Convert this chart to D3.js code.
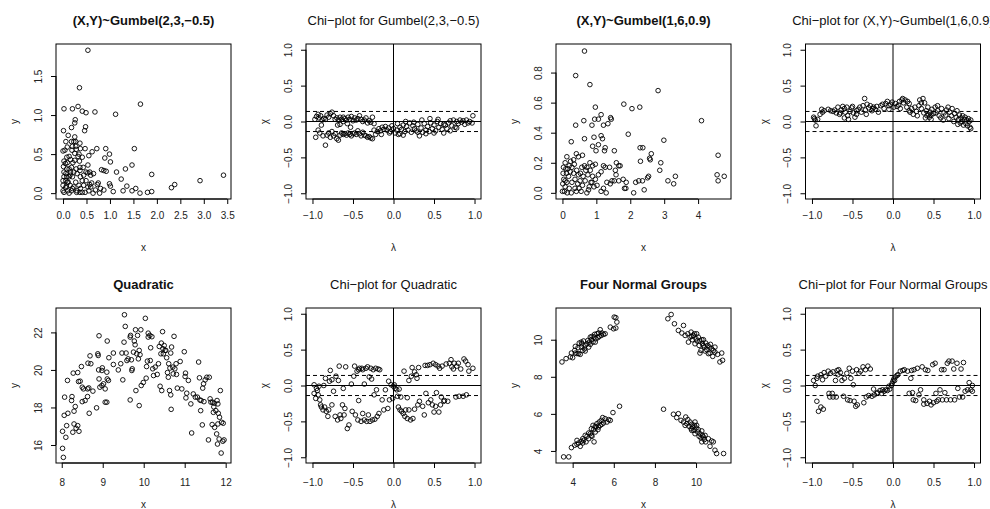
<!DOCTYPE html>
<html>
<head>
<meta charset="utf-8">
<script src="https://cdn.jsdelivr.net/npm/d3@7"></script>
<style>
  body { margin: 0; background: #fff; }
  svg { display: block; font-family: "Liberation Sans", Arial, Helvetica, sans-serif; }
</style>
</head>
<body>
<div id="chart"></div>
<script>
// ---- data: [x, y] pairs ----
const gumbelA = [
  [0.53,1.83],[0.35,1.35],[0.02,1.08],[0.2,1.08],[0.32,1.11],[0.41,1.05],[0.49,1.03],[0.68,1.04],[1.12,1.01],[1.65,1.14],
  [0.01,0.8],[0.18,0.84],[0.25,0.9],[0.26,0.94],[0.48,0.85],[0.46,0.8],[0.11,0.74],[0.25,0.72],[0.36,0.64],[0.18,0.66],
  [0.23,0.66],[1.52,0.57],[0.91,0.57],[0.72,0.57],[0.47,0.57],[0.62,0.53],[0.99,0.5],[0.55,0.48],[1.01,0.4],[0.89,0.45],
  [1.14,0.27],[1.33,0.31],[1.47,0.36],[1.89,0.24],[0.87,0.29],[0.82,0.3],[0.92,0.28],[1.24,0.18],[1.36,0.09],[1.55,0.06],
  [1.47,0.03],[1.64,0.0],[1.28,0.03],[1.07,0.02],[1.01,0.09],[0.99,0.12],[1.8,0.01],[1.89,0.02],[2.31,0.07],[2.38,0.11],
  [2.92,0.16],[3.42,0.23],[0.73,0.11],[0.75,0.13],[0.61,0.13],[0.8,0.06],[0.87,0.04],[0.78,0.0],[0.69,0.04],[0.64,0.0],
  [0.55,0.03],[0.47,0.01],[0.57,0.11],[0.65,0.25],[0.59,0.23],[0.53,0.26],[0.53,0.36],[0.49,0.27],[0.43,0.33],[0.36,0.33],
  [0.35,0.41],[0.32,0.47],[0.34,0.5],[0.28,0.56],[0.2,0.6],[0.27,0.6],[0.19,0.55],[0.13,0.47],[0.08,0.46],[0.04,0.55],
  [0.0,0.54],[0.05,0.38],[0.01,0.34],[0.08,0.31],[0.06,0.25],[0.02,0.21],[0.0,0.16],[0.0,0.1],[0.0,0.03],[0.02,0.01],
  [0.06,0.07],[0.09,0.14],[0.13,0.21],[0.16,0.27],[0.18,0.33],[0.21,0.39],[0.25,0.42],[0.28,0.31],[0.3,0.25],[0.27,0.14],
  [0.23,0.08],[0.18,0.03],[0.13,0.0],[0.3,0.03],[0.37,0.06],[0.41,0.01],[0.34,0.1],[0.41,0.16],[0.37,0.21],[0.44,0.23],
  [0.49,0.16],[0.53,0.08],[0.59,0.08],[0.2,0.21],[0.08,0.21],[0.11,0.14],[0.07,0.09],[0.15,0.1],[0.2,0.06],[0.09,0.39],
  [0.16,0.43],[0.25,0.51],[0.37,0.57],[0.36,0.29],[0.06,0.66],[0.09,0.59],[0.27,0.66],[0.41,0.46],[0.57,0.27],[0.44,0.1],
  [0.29,0.01],[0.36,0.01],[0.15,0.23],[0.23,0.27],[0.1,0.03],[0.06,0.16],[0.13,0.31],[0.02,0.27],[0.02,0.41]
];

const chiGumbelA = [
  [-0.97,0.03],[-0.95,0.07],[-0.93,0.1],[-0.92,0.05],[-0.9,0.08],[-0.88,0.02],[-0.86,0.04],[-0.84,0.03],[-0.82,0.09],[-0.8,0.06],
  [-0.78,0.11],[-0.76,0.13],[-0.74,0.08],[-0.72,0.03],[-0.7,0.05],[-0.68,0.02],[-0.66,0.06],[-0.64,0.03],[-0.62,0.0],[-0.6,0.04],
  [-0.58,0.02],[-0.56,0.06],[-0.54,0.03],[-0.52,0.07],[-0.5,0.01],[-0.48,0.05],[-0.46,0.02],[-0.44,0.04],[-0.42,0.08],[-0.4,0.03],
  [-0.38,0.0],[-0.36,0.02],[-0.34,0.05],[-0.32,-0.02],[-0.3,0.01],[-0.28,-0.01],[-0.26,0.06],[-0.24,-0.03],[-0.62,0.06],[-0.57,-0.03],
  [-0.53,-0.08],[-0.66,-0.04],[-0.69,-0.05],
  [-0.96,-0.22],[-0.93,-0.12],[-0.91,-0.16],[-0.89,-0.05],[-0.87,-0.2],[-0.84,-0.33],[-0.82,-0.19],[-0.8,-0.16],[-0.78,-0.22],[-0.76,-0.14],
  [-0.74,-0.2],[-0.72,-0.17],[-0.7,-0.24],[-0.68,-0.26],[-0.66,-0.19],[-0.64,-0.16],[-0.62,-0.18],[-0.6,-0.17],[-0.58,-0.19],[-0.56,-0.16],
  [-0.54,-0.18],[-0.52,-0.2],[-0.5,-0.17],[-0.48,-0.16],[-0.46,-0.18],[-0.44,-0.13],[-0.42,-0.17],[-0.4,-0.2],[-0.38,-0.15],[-0.36,-0.19],
  [-0.34,-0.2],[-0.32,-0.22],[-0.3,-0.21],[-0.28,-0.23],[-0.26,-0.24],[-0.24,-0.12],[-0.22,-0.18],[-0.2,-0.14],[-0.18,-0.1],[-0.16,-0.13],
  [-0.14,-0.08],[-0.12,-0.11],[-0.1,-0.07],[-0.08,-0.12],[-0.06,-0.09],[-0.04,-0.14],[-0.02,-0.06],[0.0,-0.1],[0.02,-0.16],[0.04,-0.12],
  [0.06,-0.18],[0.08,-0.08],[0.1,-0.11],[0.12,-0.05],[0.14,-0.14],[0.16,-0.07],[0.18,-0.12],[0.2,-0.02],[0.22,-0.15],[0.24,-0.06],
  [0.26,-0.1],[0.28,-0.13],[0.3,-0.04],[0.32,-0.2],[0.34,-0.09],[0.36,-0.15],[0.38,-0.03],[0.4,-0.12],[0.42,-0.07],[0.44,-0.14],
  [0.46,-0.02],[0.48,-0.1],[0.5,-0.05],[0.52,-0.13],[0.54,0.0],[0.56,-0.08],[0.58,-0.03],[0.6,-0.11],[0.62,-0.16],[0.64,-0.05],
  [0.66,-0.1],[0.68,-0.02],[0.7,0.01],[0.72,-0.06],[0.74,0.02],[0.76,-0.08],[0.78,0.0],[0.8,-0.03],[0.82,0.02],[0.84,-0.01],
  [0.86,0.01],[0.88,-0.04],[0.9,0.02],[0.92,-0.02],[0.94,0.0],[0.98,0.08],[0.97,-0.02],
  [0.25,-0.01],[0.35,0.02],[0.45,0.04],[0.55,0.03],[0.15,0.0],[0.05,-0.03],[-0.05,-0.16],[-0.15,-0.18],[0.3,-0.15],[0.4,-0.17],
  [0.5,-0.16],[0.62,-0.04],[0.7,-0.13],[0.78,-0.09],[0.12,-0.19],[0.08,-0.17]
];

const gumbelB = [
  [0.65,0.943],[0.39,0.78],[0.81,0.72],[2.82,0.68],[1.81,0.59],[2.05,0.56],[2.28,0.57],[0.97,0.57],[4.1,0.48],[1.14,0.52],
  [1.06,0.49],[0.95,0.49],[1.21,0.45],[1.34,0.46],[1.42,0.5],[1.44,0.49],[0.39,0.45],[0.87,0.45],[0.63,0.48],[1.94,0.39],
  [1.14,0.38],[1.18,0.36],[0.65,0.36],[0.93,0.37],[2.99,0.35],[0.89,0.31],[1.06,0.32],[1.26,0.3],[1.24,0.28],[0.99,0.28],
  [0.26,0.34],[1.53,0.28],[2.29,0.3],[2.37,0.3],[2.62,0.26],[2.57,0.23],[2.59,0.22],[2.3,0.21],[2.9,0.2],[2.87,0.15],
  [4.59,0.25],[4.56,0.12],[4.59,0.08],[4.77,0.11],[3.33,0.11],[3.11,0.08],[3.28,0.06],[2.51,0.1],[2.54,0.11],[2.36,0.08],
  [2.16,0.07],[2.25,0.08],[2.41,0.02],[2.1,0.0],[1.83,0.03],[1.87,0.03],[1.88,0.07],[1.79,0.09],[1.59,0.2],[1.66,0.18],
  [1.7,0.18],[1.56,0.15],[1.58,0.12],[1.53,0.08],[1.66,0.08],[1.41,0.06],[1.46,0.08],[1.31,0.07],[1.29,0.0],[1.21,0.03],
  [1.14,0.01],[1.26,0.17],[1.21,0.18],[1.39,0.17],[1.14,0.14],[1.06,0.12],[0.97,0.09],[1.02,0.05],[0.93,0.04],[0.84,0.07],
  [0.77,0.02],[0.72,0.0],[0.89,0.18],[0.97,0.19],[0.81,0.2],[0.72,0.17],[0.65,0.18],[0.57,0.17],[0.59,0.25],[0.41,0.26],
  [0.47,0.24],[0.33,0.22],[0.24,0.21],[0.13,0.24],[0.08,0.2],[0.03,0.17],[0.02,0.13],[0.04,0.09],[0.01,0.06],[0.0,0.01],
  [0.08,0.04],[0.13,0.07],[0.18,0.11],[0.23,0.14],[0.28,0.17],[0.35,0.19],[0.42,0.15],[0.47,0.12],[0.37,0.09],[0.28,0.07],
  [0.2,0.03],[0.26,0.0],[0.37,0.03],[0.45,0.06],[0.52,0.08],[0.59,0.05],[0.67,0.08],[0.75,0.12],[0.69,0.15],[0.53,0.13],
  [0.61,0.11],[0.08,0.08],[0.12,0.13],[0.16,0.16],[0.06,0.01],[0.14,0.0],[0.33,0.13],[0.41,0.01],[0.49,0.03],[0.55,0.01],
  [0.82,0.15],[0.89,0.11],[0.79,0.04],[0.87,0.07],[0.2,0.18],[0.1,0.16]
];

const chiGumbelB = [
  [-0.98,0.06],[-0.97,0.04],[-0.96,0.02],[-0.95,-0.06],[-0.93,0.03],[-0.9,0.1],[-0.88,0.17],[-0.87,0.13],[-0.85,0.15],[-0.8,0.17],
  [-0.77,0.15],[-0.74,0.14],[-0.72,0.16],[-0.7,0.12],[-0.68,0.2],[-0.66,0.1],[-0.64,0.16],[-0.62,0.21],[-0.6,0.18],[-0.59,0.13],
  [-0.57,0.2],[-0.56,0.08],[-0.55,0.03],[-0.53,0.14],[-0.51,0.19],[-0.49,0.12],[-0.47,0.06],[-0.45,0.15],[-0.43,0.17],[-0.41,0.2],
  [-0.39,0.13],[-0.37,0.22],[-0.35,0.32],[-0.34,0.16],[-0.32,0.24],[-0.3,0.19],[-0.28,0.22],[-0.26,0.15],[-0.24,0.2],[-0.22,0.17],
  [-0.2,0.21],[-0.18,0.13],[-0.15,0.22],[-0.13,0.24],[-0.11,0.18],[-0.09,0.25],[-0.07,0.28],[-0.05,0.22],[-0.03,0.24],[-0.01,0.27],
  [0.01,0.2],[0.03,0.25],[0.05,0.21],[0.07,0.23],[0.09,0.18],[0.11,0.3],[0.12,0.32],[0.13,0.26],[0.15,0.3],[0.17,0.2],
  [0.18,0.28],[0.2,0.25],[0.21,0.13],[0.23,0.18],[0.25,0.1],[0.27,0.2],[0.29,0.14],[0.3,0.08],[0.32,0.22],[0.33,0.3],
  [0.35,0.18],[0.37,0.32],[0.38,0.12],[0.39,0.26],[0.4,0.05],[0.41,0.15],[0.42,0.08],[0.43,0.2],[0.44,0.1],[0.45,0.06],
  [0.46,0.13],[0.47,0.09],[0.48,0.17],[0.5,0.11],[0.52,0.2],[0.53,0.12],[0.55,0.15],[0.57,0.08],[0.59,0.05],[0.6,0.18],
  [0.62,0.02],[0.63,0.12],[0.65,0.09],[0.66,0.16],[0.68,0.2],[0.69,0.04],[0.7,0.13],[0.72,0.08],[0.73,0.18],[0.75,0.0],
  [0.76,0.11],[0.78,0.06],[0.79,0.15],[0.8,-0.04],[0.81,0.03],[0.82,0.09],[0.83,-0.02],[0.84,0.05],[0.85,0.0],[0.86,0.08],
  [0.87,-0.05],[0.88,0.03],[0.89,0.06],[0.9,-0.03],[0.91,0.02],[0.92,-0.06],[0.93,0.04],[0.94,0.0],[0.95,-0.08],[0.96,-0.1],
  [0.96,0.02],[-0.6,0.05],[-0.45,0.1],[-0.25,0.18],[-0.05,0.17],[0.2,0.15],[0.35,0.26],[0.47,0.03],[0.55,0.22],[0.08,0.28],
  [-0.65,0.12],[-0.5,0.21],[-0.33,0.1]
];

const quadratic = [
  [8.02,15.82],[8.04,15.34],[8.02,16.73],[8.07,18.55],[8.06,17.58],[8.1,16.41],[8.12,17.03],[8.15,17.69],[8.14,19.44],[8.24,18.37],
  [8.25,18.58],[8.28,19.83],[8.3,17.12],[8.3,17.8],[8.33,18.05],[8.27,16.68],[8.35,16.89],[8.39,17.03],[8.42,16.73],[8.41,19.38],
  [8.39,19.86],[8.45,19.4],[8.48,20.18],[8.5,19.08],[8.53,18.99],[8.5,18.31],[8.57,18.37],[8.63,18.58],[8.63,18.99],[8.66,19.04],
  [8.64,20.36],[8.69,20.75],[8.67,17.69],[8.71,20.33],[8.76,18.87],[8.85,17.98],[8.88,20.86],[8.91,21.82],[8.89,20.77],[8.9,20.0],
  [8.91,19.52],[8.93,19.08],[8.98,19.97],[8.99,20.11],[8.98,19.17],[9.02,19.26],[9.06,18.99],[9.06,18.28],[9.1,18.28],[9.1,19.88],
  [9.11,19.52],[9.11,21.54],[9.15,20.65],[9.14,19.44],[9.26,20.9],[9.26,20.29],[9.38,20.0],[9.44,20.33],[9.47,20.9],[9.49,19.47],
  [9.52,21.48],[9.53,22.94],[9.55,22.32],[9.59,20.5],[9.57,20.9],[9.62,20.59],[9.67,21.75],[9.68,21.84],[9.67,18.4],[9.7,20.54],
  [9.71,19.97],[9.72,20.06],[9.75,20.95],[9.77,21.54],[9.79,21.34],[9.8,22.14],[9.81,18.9],[9.83,20.86],[9.85,21.84],[9.87,20.59],
  [9.89,21.04],[9.91,20.81],[9.93,22.14],[9.89,18.1],[9.94,19.17],[9.99,19.33],[10.04,22.75],[10.06,19.56],[10.07,20.18],[10.09,20.47],
  [10.11,21.96],[10.11,21.75],[10.15,21.84],[10.16,20.5],[10.17,21.18],[10.2,21.77],[10.22,20.06],[10.24,19.7],[10.28,20.15],[10.33,19.76],
  [10.36,20.33],[10.38,21.25],[10.4,19.13],[10.42,20.86],[10.43,21.43],[10.44,18.9],[10.46,22.04],[10.47,21.13],[10.48,20.86],[10.5,21.3],
  [10.52,21.04],[10.54,21.04],[10.56,20.65],[10.58,19.86],[10.6,19.61],[10.61,20.33],[10.63,18.9],[10.64,20.1],[10.66,20.9],[10.66,18.67],
  [10.67,17.9],[10.68,21.22],[10.71,20.15],[10.72,19.79],[10.74,21.79],[10.76,20.06],[10.79,20.33],[10.8,19.76],[10.82,19.03],[10.89,20.45],
  [10.93,18.99],[10.99,20.97],[11.01,19.65],[11.02,19.83],[11.03,18.51],[11.05,18.76],[11.09,19.44],[11.15,18.19],[11.17,16.64],[11.21,18.72],
  [11.26,18.55],[11.31,18.55],[11.34,20.42],[11.36,19.58],[11.37,18.4],[11.39,17.83],[11.4,18.37],[11.43,17.07],[11.44,19.03],[11.46,19.26],
  [11.47,18.31],[11.5,19.47],[11.54,19.61],[11.58,16.27],[11.6,19.61],[11.62,18.46],[11.64,18.28],[11.67,17.09],[11.68,18.28],[11.7,17.74],
  [11.72,18.23],[11.73,16.94],[11.76,17.83],[11.78,16.59],[11.79,18.37],[11.8,16.05],[11.81,18.19],[11.82,17.69],[11.84,16.32],[11.85,17.48],
  [11.87,18.9],[11.89,15.57],[11.9,17.21],[11.93,16.2],[11.94,17.16],[11.96,16.27],[11.81,17.12],[11.71,18.03]
];

const chiQuadratic = [
  [-0.98,-0.11],[-0.98,0.01],[-0.96,-0.18],[-0.95,-0.04],[-0.94,-0.07],[-0.93,-0.13],[-0.92,-0.01],[-0.91,-0.2],[-0.9,-0.27],[-0.89,-0.3],
  [-0.87,-0.34],[-0.86,0.0],[-0.85,-0.3],[-0.84,0.1],[-0.83,-0.36],[-0.81,-0.43],[-0.8,-0.34],[-0.79,0.06],[-0.78,0.21],[-0.76,-0.27],
  [-0.76,0.08],[-0.74,-0.08],[-0.72,-0.43],[-0.71,0.13],[-0.69,-0.48],[-0.68,0.07],[-0.67,0.27],[-0.66,-0.41],[-0.65,-0.46],[-0.63,-0.27],
  [-0.62,-0.04],[-0.61,-0.41],[-0.6,-0.32],[-0.59,0.26],[-0.57,-0.6],[-0.55,-0.55],[-0.52,0.02],[-0.51,-0.36],[-0.49,0.13],[-0.48,0.27],
  [-0.47,-0.41],[-0.45,0.2],[-0.44,-0.48],[-0.43,0.22],[-0.43,-0.21],[-0.42,0.24],[-0.4,-0.5],[-0.39,0.24],[-0.38,-0.39],[-0.38,0.22],
  [-0.36,-0.48],[-0.36,0.02],[-0.34,0.24],[-0.33,-0.5],[-0.32,0.26],[-0.31,-0.41],[-0.3,0.12],[-0.29,-0.5],[-0.28,0.24],[-0.27,0.09],
  [-0.26,-0.48],[-0.25,0.22],[-0.24,-0.13],[-0.23,-0.47],[-0.22,0.24],[-0.21,-0.06],[-0.2,-0.43],[-0.19,0.23],[-0.18,-0.39],[-0.17,0.22],
  [-0.14,-0.2],[-0.12,-0.34],[-0.1,-0.06],[-0.07,-0.32],[-0.06,0.06],[-0.05,-0.2],[-0.03,0.01],[-0.01,-0.18],[0.0,-0.01],[0.01,0.01],
  [0.02,-0.04],[0.04,-0.06],[0.05,-0.15],[0.06,-0.3],[0.07,-0.05],[0.08,-0.34],[0.09,-0.16],[0.1,-0.36],[0.12,-0.39],[0.13,0.2],
  [0.14,-0.43],[0.15,-0.34],[0.17,-0.17],[0.17,-0.46],[0.19,-0.34],[0.19,0.07],[0.21,-0.48],[0.22,0.13],[0.23,0.25],[0.24,-0.46],
  [0.26,0.19],[0.26,-0.33],[0.28,0.15],[0.29,0.1],[0.3,-0.27],[0.31,0.25],[0.32,-0.22],[0.36,-0.29],[0.38,-0.41],[0.39,0.28],
  [0.4,-0.11],[0.42,0.28],[0.43,-0.24],[0.45,0.29],[0.46,-0.2],[0.48,-0.27],[0.49,0.31],[0.5,-0.37],[0.52,0.29],[0.52,-0.29],
  [0.53,-0.1],[0.55,0.27],[0.56,-0.37],[0.57,0.24],[0.58,-0.27],[0.59,-0.16],[0.6,0.27],[0.62,-0.22],[0.63,-0.21],[0.65,0.3],
  [0.67,-0.22],[0.69,0.31],[0.71,0.36],[0.72,0.26],[0.74,0.23],[0.75,0.31],[0.77,-0.16],[0.78,0.27],[0.8,0.31],[0.81,-0.15],
  [0.83,0.23],[0.86,-0.15],[0.87,0.37],[0.89,0.34],[0.9,-0.13],[0.92,0.29],[0.93,0.2],[0.98,0.24]
];

const fourGroups = [
  [3.48,8.8],[3.68,8.98],[3.89,9.07],[3.94,9.28],[4.0,9.03],[4.1,9.42],[4.13,9.64],[4.21,9.25],[4.26,9.57],[4.32,9.82],
  [4.37,9.21],[4.42,9.6],[4.45,9.78],[4.49,9.42],[4.53,9.93],[4.58,9.51],[4.61,9.69],[4.7,9.78],[4.74,9.96],[4.81,9.87],
  [4.86,9.75],[4.91,10.0],[4.94,10.18],[4.99,9.87],[5.04,10.14],[5.07,10.29],[5.13,10.05],[5.18,10.32],[5.23,10.11],[5.26,10.36],
  [5.34,10.54],[5.39,10.23],[5.42,10.36],[5.5,10.29],[5.58,10.32],[5.83,10.68],[5.99,10.59],[6.02,11.22],[6.1,11.19],[6.15,10.95],
  [6.1,10.63],[4.29,9.25],[4.61,9.39],[4.86,10.14],[5.1,9.87],[5.29,10.18],[4.13,9.28],[4.42,9.87],[4.78,9.6],
  [3.56,3.68],[3.81,3.68],[3.94,4.18],[4.1,4.31],[4.21,4.36],[4.29,4.43],[4.37,4.25],[4.42,4.52],[4.49,4.43],[4.53,4.57],
  [4.61,4.84],[4.65,4.49],[4.7,4.79],[4.78,4.66],[4.86,4.93],[4.91,5.2],[4.94,4.79],[4.99,5.38],[5.02,5.15],[5.04,4.49],
  [5.1,5.02],[5.13,5.29],[5.18,5.47],[5.23,5.15],[5.29,5.56],[5.34,5.38],[5.39,5.65],[5.46,5.8],[5.5,5.51],[5.58,5.74],
  [5.67,5.56],[5.75,5.69],[5.83,5.65],[5.96,6.07],[6.28,6.41],[4.78,4.97],[4.49,4.66],[5.1,5.33],[5.42,5.44],[5.26,5.29],
  [4.21,4.57],[4.91,4.84],
  [8.63,11.13],[8.79,11.36],[8.95,10.86],[9.14,10.5],[9.39,10.77],[9.31,10.36],[9.47,10.23],[9.6,10.32],[9.63,9.87],[9.71,10.14],
  [9.76,10.41],[9.82,10.0],[9.87,10.23],[9.92,10.32],[9.95,9.78],[10.0,10.05],[10.05,9.93],[10.11,10.14],[10.15,9.69],[10.19,9.93],
  [10.24,9.42],[10.28,10.0],[10.31,9.78],[10.36,10.0],[10.4,9.6],[10.44,9.39],[10.47,9.82],[10.52,9.46],[10.57,9.69],[10.6,9.25],
  [10.65,9.6],[10.7,9.75],[10.76,9.51],[10.81,9.1],[10.84,9.42],[10.92,9.33],[11.05,9.21],[11.16,8.8],[11.25,9.28],[11.29,8.89],
  [9.79,10.18],[10.03,10.32],[10.36,9.69],[10.68,9.28],[10.19,9.28],[10.92,9.6],
  [8.42,6.25],[8.9,5.98],[9.14,6.01],[9.06,5.8],[9.27,5.65],[9.39,5.56],[9.5,5.83],[9.55,5.47],[9.6,5.69],[9.66,5.33],
  [9.71,5.56],[9.76,5.2],[9.79,5.44],[9.84,5.29],[9.89,5.11],[9.92,5.38],[9.95,4.93],[10.0,5.24],[10.03,5.38],[10.08,5.02],
  [10.15,4.79],[10.19,4.93],[10.24,4.7],[10.28,4.49],[10.31,4.84],[10.36,4.75],[10.4,4.61],[10.44,4.84],[10.47,4.49],[10.68,4.25],
  [10.76,4.54],[10.84,4.49],[10.92,4.04],[11.0,3.86],[11.34,3.86],[9.47,5.38],[9.79,5.11],[10.11,5.15],[10.6,4.66],[10.28,5.08],
  [9.95,5.56]
];

const chiFourGroups = [
  [-0.98,0.07],[-0.96,0.0],[-0.94,0.1],[-0.93,0.13],[-0.94,-0.22],[-0.92,-0.36],[-0.89,-0.3],[-0.86,-0.33],[-0.89,0.15],[-0.87,0.08],
  [-0.85,0.18],[-0.83,0.13],[-0.8,0.2],[-0.79,-0.11],[-0.78,-0.16],[-0.77,0.17],[-0.75,-0.11],[-0.74,-0.16],[-0.74,0.19],[-0.71,0.07],
  [-0.7,-0.16],[-0.69,0.21],[-0.68,0.15],[-0.67,0.22],[-0.65,0.18],[-0.63,0.07],[-0.61,-0.15],[-0.6,0.1],[-0.57,0.17],[-0.56,-0.2],
  [-0.54,0.24],[-0.53,-0.21],[-0.52,0.1],[-0.5,0.2],[-0.49,0.01],[-0.48,-0.22],[-0.46,-0.29],[-0.45,0.22],[-0.44,-0.27],[-0.42,0.17],
  [-0.4,0.2],[-0.37,0.26],[-0.36,-0.24],[-0.34,0.22],[-0.33,-0.16],[-0.31,0.27],[-0.3,-0.14],[-0.28,0.23],[-0.26,-0.15],[-0.24,-0.05],
  [-0.23,-0.13],[-0.2,-0.11],[-0.19,-0.1],[-0.16,-0.07],[-0.14,-0.11],[-0.13,-0.06],[-0.11,-0.08],[-0.09,-0.06],[-0.07,-0.07],[-0.05,-0.01],
  [-0.04,-0.05],[-0.02,0.0],[-0.01,0.03],[0.0,0.06],[0.01,0.09],[0.02,0.07],[0.03,0.12],[0.05,0.14],[0.06,0.15],[0.09,0.2],
  [0.12,0.21],[0.14,0.22],[0.18,0.2],[0.2,-0.11],[0.22,0.1],[0.23,0.21],[0.24,-0.1],[0.25,-0.2],[0.26,0.22],[0.28,-0.21],
  [0.3,0.24],[0.32,-0.13],[0.34,-0.06],[0.36,0.26],[0.38,-0.2],[0.38,-0.26],[0.4,0.22],[0.42,-0.25],[0.43,0.21],[0.45,-0.22],
  [0.47,-0.27],[0.49,0.29],[0.5,-0.24],[0.52,0.31],[0.53,-0.11],[0.54,-0.22],[0.56,-0.2],[0.58,-0.06],[0.6,0.22],[0.61,-0.2],
  [0.63,0.22],[0.64,-0.1],[0.66,-0.2],[0.67,0.31],[0.69,0.34],[0.71,-0.2],[0.73,0.34],[0.75,0.23],[0.76,-0.2],[0.79,0.31],
  [0.8,-0.04],[0.82,-0.16],[0.84,0.23],[0.86,-0.16],[0.87,0.32],[0.89,-0.08],[0.92,-0.06],[0.94,0.04],[0.96,-0.06],[0.98,0.0],
  [0.98,-0.08]
];

// axis ranges and ticks
const rangeGumbelA = { x: [-0.15, 3.58], y: [-0.075, 1.91] };
const rangeGumbelB = { x: [-0.19, 4.97], y: [-0.041, 0.99] };
const rangeQuadratic = { x: [7.86, 12.13], y: [15.04, 23.3] };
const rangeFourGroups = { x: [3.19, 11.7], y: [3.35, 11.71] };
const rangeChi = { x: [-1.08, 1.08], y: [-1.08, 1.08] };

const ticksGumbelAX = [0, 0.5, 1, 1.5, 2, 2.5, 3, 3.5];
const ticksGumbelAY = [0, 0.5, 1, 1.5];
const ticksGumbelBX = [0, 1, 2, 3, 4];
const ticksGumbelBY = [0, 0.2, 0.4, 0.6, 0.8];
const ticksQuadraticX = [8, 9, 10, 11, 12];
const ticksQuadraticY = [16, 18, 20, 22];
const ticksFourX = [4, 6, 8, 10];
const ticksFourY = [4, 6, 8, 10];
const ticksChi = [-1, -0.5, 0, 0.5, 1];

const chiBand = 0.14;

const titles = [
  '(X,Y)~Gumbel(2,3,\u22120.5)', 'Chi\u2212plot for Gumbel(2,3,\u22120.5)',
  '(X,Y)~Gumbel(1,6,0.9)', 'Chi\u2212plot for (X,Y)~Gumbel(1,6,0.9)',
  'Quadratic', 'Chi\u2212plot for Quadratic',
  'Four Normal Groups', 'Chi\u2212plot for Four Normal Groups'
];

// ---- layout ----
const W = 990, H = 509;
const colLeft = [56, 306, 556, 805.5];
const rowTop = [44, 308];
const boxW = 175, boxH = 155;
// per row: tick label baseline and axis title baseline below the box
const tickLabelY = [19.5, 22.5];
const axisTitleY = [51.5, 44.5];

const fmt1 = (d) => d3.format('.1f')(d).replace('-', '\u2212');
const fmt0 = (d) => d3.format('d')(d);

const panels = [
  { data: gumbelA, range: rangeGumbelA, tx: ticksGumbelAX, ty: ticksGumbelAY, fx: fmt1, fy: fmt1, xl: 'x', yl: 'y', bold: true },
  { data: chiGumbelA, range: rangeChi, tx: ticksChi, ty: ticksChi, fx: fmt1, fy: fmt1, xl: '\u03bb', yl: '\u03c7', chi: true },
  { data: gumbelB, range: rangeGumbelB, tx: ticksGumbelBX, ty: ticksGumbelBY, fx: fmt0, fy: fmt1, xl: 'x', yl: 'y', bold: true },
  { data: chiGumbelB, range: rangeChi, tx: ticksChi, ty: ticksChi, fx: fmt1, fy: fmt1, xl: '\u03bb', yl: '\u03c7', chi: true },
  { data: quadratic, range: rangeQuadratic, tx: ticksQuadraticX, ty: ticksQuadraticY, fx: fmt0, fy: fmt0, xl: 'x', yl: 'y', bold: true },
  { data: chiQuadratic, range: rangeChi, tx: ticksChi, ty: ticksChi, fx: fmt1, fy: fmt1, xl: '\u03bb', yl: '\u03c7', chi: true },
  { data: fourGroups, range: rangeFourGroups, tx: ticksFourX, ty: ticksFourY, fx: fmt0, fy: fmt0, xl: 'x', yl: 'y', bold: true },
  { data: chiFourGroups, range: rangeChi, tx: ticksChi, ty: ticksChi, fx: fmt1, fy: fmt1, xl: '\u03bb', yl: '\u03c7', chi: true }
];

const svg = d3.select('#chart').append('svg')
  .attr('width', W).attr('height', H);
svg.append('rect').attr('width', W).attr('height', H).attr('fill', '#fff');

panels.forEach((p, i) => {
  const row = Math.floor(i / 4);
  const left = colLeft[i % 4];
  const top = rowTop[row];
  const g = svg.append('g').attr('transform', `translate(${left},${top})`);

  const x = d3.scaleLinear().domain(p.range.x).range([0, boxW]);
  const y = d3.scaleLinear().domain(p.range.y).range([boxH, 0]);

  // reference lines for chi-plots
  if (p.chi) {
    g.append('line').attr('x1', 0).attr('x2', boxW).attr('y1', y(0)).attr('y2', y(0))
      .attr('stroke', '#000').attr('stroke-width', 1);
    g.append('line').attr('x1', x(0)).attr('x2', x(0)).attr('y1', 0).attr('y2', boxH)
      .attr('stroke', '#000').attr('stroke-width', 1);
    [chiBand, -chiBand].forEach((c) => {
      g.append('line').attr('x1', 0).attr('x2', boxW).attr('y1', y(c)).attr('y2', y(c))
        .attr('stroke', '#000').attr('stroke-width', 1).attr('stroke-dasharray', '4,3');
    });
  }

  // points
  g.append('g').selectAll('circle')
    .data(p.data)
    .enter()
    .append('circle')
    .attr('cx', (d) => x(d[0]))
    .attr('cy', (d) => y(d[1]))
    .attr('r', 2.3)
    .attr('fill', 'none')
    .attr('stroke', '#000')
    .attr('stroke-width', 0.9);

  // box
  g.append('rect').attr('width', boxW).attr('height', boxH)
    .attr('fill', 'none').attr('stroke', '#000').attr('stroke-width', 1);

  // x axis
  const xa = g.append('g').attr('transform', `translate(0,${boxH})`)
    .call(d3.axisBottom(x).tickValues(p.tx).tickFormat(p.fx).tickSize(5).tickSizeOuter(0));
  xa.select('.domain').attr('d', `M${x(p.tx[0])},0H${x(p.tx[p.tx.length - 1])}`);
  xa.selectAll('text').attr('font-size', 10).attr('font-family', null).attr('fill', '#222')
    .attr('dy', null).attr('y', tickLabelY[row]);

  // y axis with rotated labels (each tick group is already shifted to y(d))
  const ya = g.append('g')
    .call(d3.axisLeft(y).tickValues(p.ty).tickFormat(p.fy).tickSize(5).tickSizeOuter(0));
  ya.select('.domain').attr('d', `M0,${y(p.ty[0])}V${y(p.ty[p.ty.length - 1])}`);
  ya.selectAll('text')
    .attr('font-size', 10).attr('font-family', null).attr('fill', '#222')
    .attr('x', null).attr('dy', null)
    .attr('text-anchor', 'middle')
    .attr('transform', 'translate(-14.5,0) rotate(-90)');

  // titles
  g.append('text')
    .attr('x', boxW / 2).attr('y', -19)
    .attr('text-anchor', 'middle')
    .attr('font-size', 13)
    .attr('font-weight', p.bold ? 'bold' : 'normal')
    .attr('fill', '#111')
    .text(titles[i]);

  g.append('text')
    .attr('x', boxW / 2).attr('y', boxH + axisTitleY[row])
    .attr('text-anchor', 'middle').attr('font-size', 10).attr('fill', '#222')
    .text(p.xl);

  g.append('text')
    .attr('transform', `translate(-38,${boxH / 2}) rotate(-90)`)
    .attr('text-anchor', 'middle').attr('font-size', 10).attr('fill', '#222')
    .text(p.yl);
});
</script>
</body>
</html>
